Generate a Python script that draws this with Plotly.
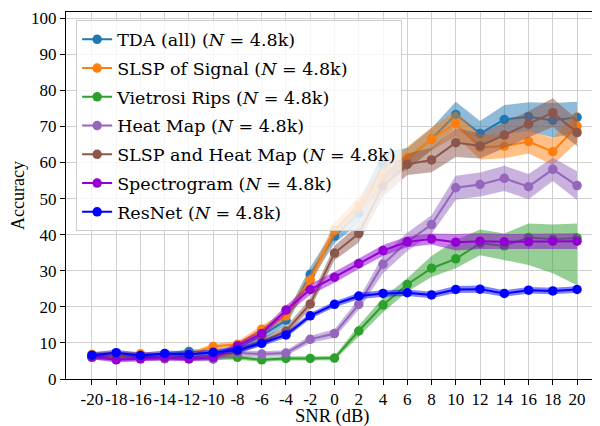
import plotly.graph_objects as go

snr = list(range(-20, 22, 2))
tick_text = [str(v) for v in snr]

names = [
    "TDA (all) (<i>N</i> = 4.8k)",
    "SLSP of Signal (<i>N</i> = 4.8k)",
    "Vietrosi Rips (<i>N</i> = 4.8k)",
    "Heat Map (<i>N</i> = 4.8k)",
    "SLSP and Heat Map (<i>N</i> = 4.8k)",
    "Spectrogram (<i>N</i> = 4.8k)",
    "ResNet (<i>N</i> = 4.8k)",
]
colors = ["#1f77b4", "#ff7f0e", "#2ca02c", "#9467bd", "#8c564b", "#9400d3", "#0000ff"]

tda = [6.5, 6.8, 6.3, 6.5, 7.6, 7.0, 8.5, 12.0, 16.3, 29.0, 39.6, 46.0, 59.5, 61.0, 66.5, 73.3, 68.0, 71.9, 72.7, 71.7, 72.5]
tda_err = [0.7, 0.7, 0.7, 0.7, 0.8, 0.8, 1.0, 1.3, 1.5, 2.0, 2.0, 3.0, 3.5, 3.0, 3.0, 3.5, 3.5, 4.0, 4.0, 4.8, 4.3]

slsp = [6.8, 7.0, 7.0, 6.6, 6.8, 9.0, 9.6, 13.8, 17.5, 27.4, 41.3, 48.0, 56.0, 61.3, 66.5, 70.8, 64.2, 64.5, 65.8, 63.0, 70.1]
slsp_err = [0.6, 0.6, 0.6, 0.6, 0.6, 0.8, 0.8, 1.0, 1.2, 1.8, 2.0, 2.5, 3.0, 3.0, 3.2, 3.5, 3.4, 3.3, 3.3, 3.7, 4.5]

vr = [6.0, 5.8, 5.8, 5.8, 5.8, 5.8, 6.0, 5.3, 5.7, 5.7, 5.8, 13.3, 20.5, 26.2, 30.7, 33.3, 37.6, 36.9, 39.2, 38.7, 39.1]
vr_lo = [5.4, 5.2, 5.2, 5.2, 5.2, 5.2, 5.4, 4.7, 5.1, 5.1, 5.2, 11.8, 18.5, 24.2, 28.3, 30.7, 34.3, 33.0, 31.6, 29.3, 26.0]
vr_hi = [6.6, 6.4, 6.4, 6.4, 6.4, 6.4, 6.6, 5.9, 6.3, 6.3, 6.4, 14.8, 22.5, 27.9, 34.1, 38.5, 41.4, 40.3, 43.1, 42.8, 43.1]

heat = [6.0, 5.5, 5.6, 5.6, 5.6, 5.5, 7.2, 6.9, 7.2, 11.0, 12.6, 20.7, 31.8, 38.0, 42.8, 53.0, 53.9, 55.6, 53.3, 58.1, 53.6]
heat_err = [0.6, 0.6, 0.6, 0.6, 0.6, 0.6, 0.8, 0.8, 0.8, 1.0, 1.2, 1.5, 2.5, 2.5, 2.6, 3.3, 3.3, 3.5, 3.5, 3.2, 4.0]

slsp_heat = [6.0, 6.0, 6.0, 6.0, 6.0, 6.0, 7.5, 10.5, 13.3, 20.8, 34.9, 40.3, 53.5, 59.5, 60.7, 65.5, 64.6, 67.6, 70.6, 73.8, 68.3]
slsp_heat_err = [0.6, 0.6, 0.6, 0.6, 0.6, 0.6, 0.8, 1.0, 1.2, 1.5, 2.0, 2.5, 3.0, 3.0, 3.4, 4.0, 3.5, 3.5, 3.7, 4.0, 3.7]

spec = [6.2, 5.3, 5.6, 5.9, 5.6, 6.0, 9.2, 12.6, 19.1, 24.8, 28.2, 32.0, 35.6, 38.0, 38.8, 37.9, 38.2, 38.0, 38.0, 38.2, 38.2]
spec_err = [0.7, 0.7, 0.7, 0.7, 0.7, 0.7, 0.9, 1.0, 1.2, 1.5, 1.5, 1.5, 1.5, 1.5, 1.5, 2.3, 2.2, 2.2, 2.2, 2.2, 2.2]

resnet = [6.6, 7.3, 6.5, 7.1, 6.8, 7.4, 8.0, 9.9, 12.2, 17.5, 20.7, 23.0, 23.7, 23.9, 23.3, 24.8, 24.9, 23.7, 24.6, 24.4, 24.8]
resnet_err = [0.8, 0.8, 0.8, 0.8, 0.8, 0.8, 0.8, 0.8, 0.8, 0.8, 0.8, 0.9, 0.9, 0.9, 0.9, 1.0, 1.0, 0.9, 0.9, 0.9, 0.9]


def sym(m, e):
    return [a - b for a, b in zip(m, e)], [a + b for a, b in zip(m, e)]


series = [
    (tda, *sym(tda, tda_err)),
    (slsp, *sym(slsp, slsp_err)),
    (vr, vr_lo, vr_hi),
    (heat, *sym(heat, heat_err)),
    (slsp_heat, *sym(slsp_heat, slsp_heat_err)),
    (spec, *sym(spec, spec_err)),
    (resnet, *sym(resnet, resnet_err)),
]


def rgba(h, a):
    h = h.lstrip("#")
    r, g, b = int(h[0:2], 16), int(h[2:4], 16), int(h[4:6], 16)
    return f"rgba({r},{g},{b},{a})"


fig = go.Figure()
for i, ((mean, lo, hi), name, col) in enumerate(zip(series, names, colors)):
    fig.add_trace(go.Scatter(
        x=snr + snr[::-1], y=hi + lo[::-1], fill="toself",
        fillcolor=rgba(col, 0.5), line=dict(width=0), mode="lines",
        showlegend=False, legendgroup=f"g{i}", hoverinfo="skip",
    ))
    fig.add_trace(go.Scatter(
        x=snr, y=mean, mode="lines+markers", name=name,
        line=dict(color=col, width=2), marker=dict(color=col, size=9.5),
        legendgroup=f"g{i}",
    ))

axis_common = dict(
    showline=True, mirror=True, linecolor="black", linewidth=1,
    ticks="outside", ticklen=5, tickcolor="black", tickwidth=1,
    showgrid=True, gridcolor="#d0d0d0", gridwidth=1, zeroline=False,
    automargin=False,
)

# The page body has an 8px margin, so the figure is sized to fit inside it.
fig.update_layout(
    width=592, height=418,
    margin=dict(l=58, r=1, t=4, b=47),
    paper_bgcolor="white", plot_bgcolor="white",
    font=dict(family="Liberation Serif", size=17, color="black"),
    xaxis=dict(range=[-22.14, 21.81], tickvals=snr, ticktext=tick_text,
               tickangle=0, **axis_common),
    yaxis=dict(range=[0, 101.7], tickvals=list(range(0, 101, 10)),
               title=dict(text="Accuracy", standoff=8, font=dict(size=18)),
               **axis_common),
    legend=dict(
        x=0.019, y=0.977, xanchor="left", yanchor="top",
        bgcolor="rgba(255,255,255,0.8)", bordercolor="#cccccc", borderwidth=1,
        font=dict(size=17.5, family="DejaVu Serif"), traceorder="grouped",
        tracegroupgap=3, itemwidth=30,
    ),
    annotations=[dict(
        text="SNR (dB)", xref="paper", yref="paper", x=0.5, y=-0.071,
        xanchor="center", yanchor="top", showarrow=False, borderpad=0,
        font=dict(size=18.5, family="Liberation Serif", color="black"),
    )],
    showlegend=True,
)

fig.write_html("out.html")
